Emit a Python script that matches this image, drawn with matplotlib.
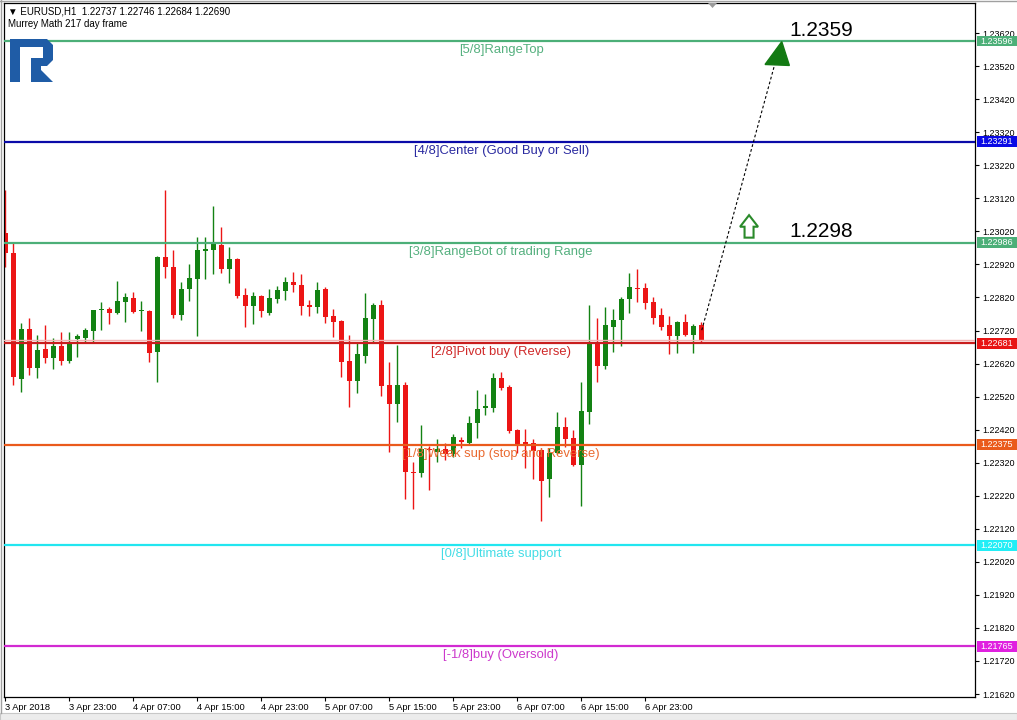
import matplotlib
matplotlib.use("Agg")
import matplotlib.pyplot as plt
import matplotlib.transforms as mtransforms
from matplotlib.patches import Polygon, Rectangle

plt.rcParams['font.family'] = ['Liberation Sans', 'DejaVu Sans']

# EURUSD H1 candles (open / high / low / close)
opens = [1.23015, 1.22954, 1.22573, 1.22724, 1.22606, 1.22664, 1.22637, 1.22673, 1.22628, 1.22694,
         1.22697, 1.22718, 1.22782, 1.22785, 1.22773, 1.22806, 1.22818, 1.22779, 1.22779, 1.22655,
         1.22942, 1.22912, 1.22767, 1.22845, 1.22876, 1.22960, 1.22963, 1.22978, 1.22906, 1.22936,
         1.22827, 1.22794, 1.22824, 1.22773, 1.22815, 1.22839, 1.22867, 1.22857, 1.22797, 1.22791,
         1.22845, 1.22764, 1.22749, 1.22628, 1.22567, 1.22643, 1.22755, 1.22797, 1.22555, 1.22497,
         1.22555, 1.22292, 1.22289, 1.22361, 1.22352, 1.22361, 1.22346, 1.22388, 1.22379, 1.22440,
         1.22485, 1.22485, 1.22576, 1.22549, 1.22419, 1.22382, 1.22379, 1.22358, 1.22270, 1.22349,
         1.22428, 1.22394, 1.22313, 1.22473, 1.22679, 1.22612, 1.22730, 1.22752, 1.22815, 1.22848,
         1.22848, 1.22806, 1.22767, 1.22736, 1.22703, 1.22746, 1.22706, 1.22737]
highs = [1.23145, 1.22985, 1.22742, 1.22758, 1.22706, 1.22736, 1.22697, 1.22715, 1.22715, 1.22709,
         1.22727, 1.22782, 1.22806, 1.22791, 1.22870, 1.22833, 1.22836, 1.22809, 1.22782, 1.22945,
         1.23145, 1.22963, 1.22867, 1.22921, 1.23003, 1.23003, 1.23096, 1.23033, 1.22972, 1.22940,
         1.22848, 1.22836, 1.22827, 1.22845, 1.22854, 1.22882, 1.22897, 1.22891, 1.22812, 1.22867,
         1.22851, 1.22785, 1.22752, 1.22706, 1.22682, 1.22833, 1.22803, 1.22812, 1.22624, 1.22676,
         1.22564, 1.22322, 1.22434, 1.22370, 1.22391, 1.22379, 1.22407, 1.22397, 1.22461, 1.22540,
         1.22528, 1.22591, 1.22594, 1.22555, 1.22422, 1.22422, 1.22391, 1.22364, 1.22364, 1.22473,
         1.22458, 1.22419, 1.22564, 1.22797, 1.22758, 1.22791, 1.22785, 1.22821, 1.22894, 1.22906,
         1.22864, 1.22821, 1.22788, 1.22764, 1.22749, 1.22770, 1.22739, 1.22746]
lows = [1.22912, 1.22555, 1.22534, 1.22585, 1.22576, 1.22621, 1.22603, 1.22615, 1.22621, 1.22640,
        1.22682, 1.22682, 1.22721, 1.22739, 1.22770, 1.22746, 1.22773, 1.22718, 1.22624, 1.22564,
        1.22879, 1.22758, 1.22752, 1.22809, 1.22703, 1.22876, 1.22891, 1.22894, 1.22864, 1.22818,
        1.22730, 1.22739, 1.22761, 1.22767, 1.22803, 1.22812, 1.22836, 1.22767, 1.22764, 1.22773,
        1.22742, 1.22700, 1.22579, 1.22488, 1.22531, 1.22621, 1.22682, 1.22522, 1.22352, 1.22443,
        1.22210, 1.22180, 1.22276, 1.22237, 1.22322, 1.22328, 1.22337, 1.22364, 1.22373, 1.22394,
        1.22464, 1.22473, 1.22540, 1.22410, 1.22349, 1.22304, 1.22270, 1.22143, 1.22216, 1.22346,
        1.22367, 1.22310, 1.22189, 1.22437, 1.22564, 1.22603, 1.22655, 1.22673, 1.22773, 1.22806,
        1.22785, 1.22739, 1.22721, 1.22649, 1.22652, 1.22703, 1.22652, 1.22684]
closes = [1.22954, 1.22579, 1.22724, 1.22606, 1.22661, 1.22637, 1.22673, 1.22628, 1.22682, 1.22703,
          1.22721, 1.22782, 1.22785, 1.22773, 1.22809, 1.22821, 1.22776, 1.22780, 1.22652, 1.22942,
          1.22912, 1.22767, 1.22845, 1.22879, 1.22963, 1.22966, 1.22982, 1.22906, 1.22936, 1.22824,
          1.22794, 1.22824, 1.22779, 1.22818, 1.22842, 1.22867, 1.22857, 1.22794, 1.22791, 1.22842,
          1.22761, 1.22746, 1.22624, 1.22567, 1.22649, 1.22758, 1.22797, 1.22552, 1.22497, 1.22555,
          1.22292, 1.22289, 1.22361, 1.22358, 1.22361, 1.22346, 1.22397, 1.22382, 1.22440, 1.22482,
          1.22491, 1.22576, 1.22546, 1.22416, 1.22376, 1.22373, 1.22355, 1.22264, 1.22349, 1.22428,
          1.22391, 1.22313, 1.22476, 1.22679, 1.22612, 1.22736, 1.22752, 1.22815, 1.22851, 1.22845,
          1.22803, 1.22758, 1.22730, 1.22703, 1.22746, 1.22706, 1.22733, 1.22690]

time_labels = ["3 Apr 2018", "3 Apr 23:00", "4 Apr 07:00", "4 Apr 15:00", "4 Apr 23:00",
               "5 Apr 07:00", "5 Apr 15:00", "5 Apr 23:00", "6 Apr 07:00", "6 Apr 15:00",
               "6 Apr 23:00"]

# Murrey Math levels
levels = [1.23596, 1.23291, 1.22986, 1.22681, 1.22375, 1.22070, 1.21765]
level_names = ["[5/8]RangeTop", "[4/8]Center (Good Buy or Sell)",
               "[3/8]RangeBot of trading Range", "[2/8]Pivot buy (Reverse)",
               "[1/8]Weak sup (stop and Reverse)", "[0/8]Ultimate support",
               "[-1/8]buy (Oversold)"]
line_colors = ["#4caf78", "#0a0aa8", "#4caf78", "#c81e1e", "#ea5a1c", "#22e6f0", "#d22ad2"]
text_colors = ["#55b07f", "#2a2aa0", "#55b07f", "#d02a2a", "#ea6a30", "#44dde6", "#cc3acc"]
box_colors = ["#4caf78", "#0a0ae6", "#4caf78", "#e81414", "#ea5a1c", "#22eef6", "#e020e0"]

targets = [1.2359, 1.2298]
last_bid = closes[-1]

fig = plt.figure(figsize=(10.17, 7.2), dpi=100)
ax = fig.add_axes([4 / 1017, 23 / 720, 971 / 1017, 694 / 720])

n = len(opens)
xs = list(range(n))
up = [c >= o for o, c in zip(opens, closes)]
cols = ["#138213" if u else "#ec1515" for u in up]
bottoms = [min(o, c) for o, c in zip(opens, closes)]
heights = [max(abs(c - o), 0.00004) for o, c in zip(opens, closes)]

ax.vlines(xs, lows, highs, colors=cols, lw=1.0, zorder=2)
ax.bar(xs, heights, bottom=bottoms, width=0.6, color=cols, linewidth=0, zorder=2)

blend = mtransforms.blended_transform_factory(ax.transAxes, ax.transData)

ax.axhline(last_bid, color="#f2b4b4", lw=1.0, zorder=3)
for lv, name, lc, tc, bc in zip(levels, level_names, line_colors, text_colors, box_colors):
    ax.axhline(lv, color=lc, lw=1.6, zorder=3)
    ax.text(0.512, lv - 0.000272, name, transform=blend, ha="center", va="center",
            fontsize=9.4, color=tc, zorder=4)
    ax.add_patch(Rectangle((1.0025, lv - 0.000165), 0.043, 0.00033, transform=blend,
                           facecolor=bc, edgecolor="none", clip_on=False, zorder=5))
    ax.text(1.006, lv, f"{lv:.5f}", transform=blend, ha="left", va="center",
            fontsize=6.5, color="white", clip_on=False, zorder=6)

# forecast path
ax.plot([87.05, 96.2], [1.22721, 1.23528], color="black", lw=0.8, ls=(0, (2.5, 2)), zorder=4)
ax.add_patch(Polygon([[97.05, 1.23594], [94.96, 1.23525], [98.0, 1.23522]], closed=True,
                     facecolor="#137a13", edgecolor="#137a13", zorder=5))
cx, tip, hb, bot = 92.96, 1.23069, 1.23034, 1.23001
ax.add_patch(Polygon([[cx, tip], [cx + 1.125, hb], [cx + 0.5625, hb], [cx + 0.5625, bot],
                      [cx - 0.5625, bot], [cx - 0.5625, hb], [cx - 1.125, hb]], closed=True,
                     facecolor="white", edgecolor="#2a8a2a", lw=1.5, zorder=5))
ax.text(97.96, 1.23629, f"{targets[0]:.4f}", fontsize=15, ha="left", va="center", zorder=6)
ax.text(97.96, 1.23021, f"{targets[1]:.4f}", fontsize=15, ha="left", va="center", zorder=6)

ax.set_xlim(-0.16, 121.2)
ax.set_ylim(1.21611, 1.23711)
ax.set_yticks([1.2162 + 0.001 * k for k in range(21)])
ax.yaxis.set_major_formatter(plt.FormatStrFormatter("%.5f"))
ax.yaxis.tick_right()
ax.tick_params(axis="y", direction="out", length=3, width=0.8, pad=2, labelsize=6.5)
ax.set_xticks([8 * k for k in range(len(time_labels))], time_labels, ha="left")
ax.tick_params(axis="x", direction="out", length=3, width=0.8, pad=1.5, labelsize=6.7)
for sp in ax.spines.values():
    sp.set_linewidth(0.9)
    sp.set_color("black")

# overlay in pixel coordinates: header, logo, window bits
deco = fig.add_axes([0, 0, 1, 1], zorder=10)
deco.set_xlim(0, 1017)
deco.set_ylim(720, 0)
deco.axis("off")
deco.patch.set_alpha(0)
deco.text(8, 11, "\u25bc EURUSD,H1  1.22737 1.22746 1.22684 1.22690", fontsize=7.0,
          va="center", ha="left")
deco.text(8, 24, "Murrey Math 217 day frame", fontsize=7.0, va="center", ha="left")
deco.add_patch(Polygon([[10, 39], [47, 39], [53, 45], [53, 60], [47, 66], [41, 66], [41, 70],
                        [53, 82], [31, 82], [31, 58], [43, 58], [43, 47], [20, 47], [20, 82],
                        [10, 82]], closed=True, facecolor="#1f5ca6", edgecolor="none"))
deco.add_patch(Polygon([[708, 3], [717, 3], [712.5, 8]], closed=True, facecolor="#9a9a9a",
                       edgecolor="none"))
deco.add_patch(Rectangle((0, 713), 1017, 7, facecolor="#ececec", edgecolor="#c8c8c8", lw=0.8))
deco.plot([0.5, 0.5], [0, 713], color="#a0a0a0", lw=1)
deco.plot([0, 1017], [0.5, 0.5], color="#a0a0a0", lw=1)

fig.savefig("out.png", dpi=100, facecolor="white")
